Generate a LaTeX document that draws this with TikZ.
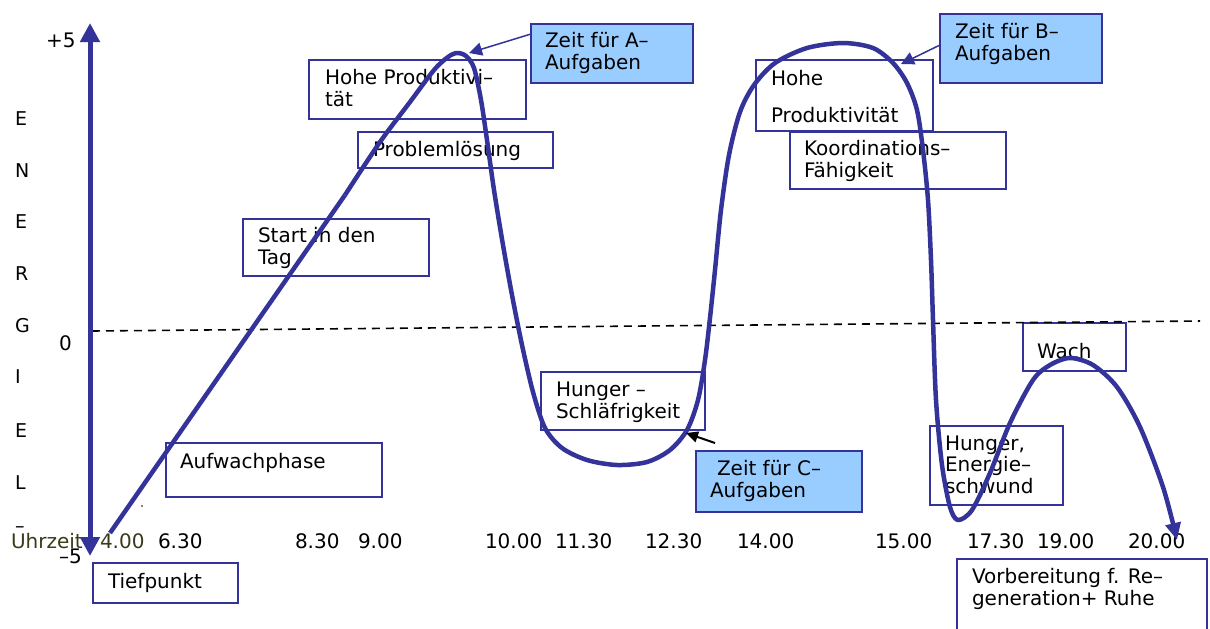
\documentclass[tikz,border=0pt]{standalone}
\usepackage{fontspec}
\setmainfont{DejaVu Sans}
\usetikzlibrary{arrows.meta}
\definecolor{pblue}{HTML}{333399}
\definecolor{lblue}{HTML}{99CCFF}
\definecolor{olive}{HTML}{3A3A1A}
\tikzset{
  box/.style={draw=pblue, line width=1.6pt, anchor=north west, inner sep=0pt, outer sep=0pt},
  fbox/.style={box, fill=lblue},
  txt/.style={anchor=base west, inner sep=0pt, outer sep=0pt, align=left, font=\fontsize{20}{21.5}\selectfont},
  axlbl/.style={anchor=base west, inner sep=0pt, outer sep=0pt, font=\fontsize{19}{20}\selectfont},
  curve/.style={draw=pblue, line width=4.5pt, line join=round},
  pointer/.style={draw=pblue, line width=1.5pt, -{Triangle[length=13pt,width=13pt]}},
}
\begin{document}
\begin{tikzpicture}[x=1pt,y=-1pt]
\useasboundingbox (0,0) rectangle (1210,629);
% boxes
\node[box, minimum width=145pt, minimum height=40pt] (bTief) at (93,563) {};
\node[box, minimum width=216pt, minimum height=54pt] (bAuf) at (166,443) {};
\node[box, minimum width=186pt, minimum height=57pt] (bStart) at (243,219) {};
\node[box, minimum width=217pt, minimum height=59pt] (bHohe1) at (309,60) {};
\node[box, minimum width=195pt, minimum height=36pt] (bProb) at (358,132) {};
\node[fbox, minimum width=162pt, minimum height=59pt] (bZA) at (531,24) {};
\node[box, minimum width=164pt, minimum height=58pt] (bHung) at (541,372) {};
\node[fbox, minimum width=166pt, minimum height=61pt] (bZC) at (696,451) {};
\node[box, minimum width=177pt, minimum height=71pt] (bHohe2) at (756,60) {};
\node[box, minimum width=216pt, minimum height=57pt] (bKoord) at (790,132) {};
\node[fbox, minimum width=162pt, minimum height=69pt] (bZB) at (940,14) {};
\node[box, minimum width=103pt, minimum height=48pt] (bWach) at (1023,323) {};
\node[box, minimum width=133pt, minimum height=79pt] (bHE) at (930,426) {};
\node[box, minimum width=250pt, minimum height=80pt] (bVor) at (957,559) {};
% box texts (anchor = baseline of last line)
\node[txt] (tTief) at (108,588) {Tiefpunkt};
\node[txt] (tAuf) at (180,468) {Aufwachphase};
\node[txt] (tStart) at (258,264) {Start in den\\Tag};
\node[txt] (tHohe1) at (325,106) {Hohe Produktivi–\\tät};
\node[txt] (tProb) at (373,156) {Problemlösung};
\node[txt] (tZA) at (545,69) {Zeit für A–\\Aufgaben};
\node[txt] (tHung) at (556,418) {Hunger –\\Schläfrigkeit};
\node[txt] (tZC) at (710,497) {\hspace*{7pt}Zeit für C–\\Aufgaben};
\node[txt, font=\fontsize{20}{37}\selectfont] (tHohe2) at (771,122) {Hohe\\Produktivität};
\node[txt] (tKoord) at (804,177) {Koordinations–\\Fähigkeit};
\node[txt] (tZB) at (955,60) {Zeit für B–\\Aufgaben};
\node[txt] (tWach) at (1037,358) {Wach};
\node[txt] (tHE) at (945,493) {Hunger,\\Energie–\\schwund};
\node[txt] (tVor) at (972,605) {Vorbereitung f. Re–\\generation+ Ruhe};
% axis labels
\node[axlbl, font=\fontsize{20}{22}\selectfont] (lp5) at (46,47) {+5};
\node[axlbl, font=\fontsize{20}{22}\selectfont] (l0) at (59,350) {0};
\node[axlbl, font=\fontsize{20}{22}\selectfont] (lm5) at (59,563) {–5};
\node[axlbl] (e1) at (15,125) {E};
\node[axlbl] (e2) at (15,177) {N};
\node[axlbl] (e3) at (15,228) {E};
\node[axlbl] (e4) at (15,280) {R};
\node[axlbl] (e5) at (15,332) {G};
\node[axlbl] (e6) at (15,383) {I};
\node[axlbl] (e7) at (15,437) {E};
\node[axlbl] (e8) at (15,489) {L};
\node[axlbl] (e9) at (15,532) {–};
% time labels
\node[txt, text=olive] (uhr) at (11,548) {Uhrzeit};
\node[txt, text=olive] (t400) at (100,548) {4.00};
\node[txt] (t630) at (158,548) {6.30};
\node[txt] (t830) at (295,548) {8.30};
\node[txt] (t900) at (358,548) {9.00};
\node[txt] (t1000) at (485,548) {10.00};
\node[txt] (t1130) at (555,548) {11.30};
\node[txt] (t1230) at (645,548) {12.30};
\node[txt] (t1400) at (737,548) {14.00};
\node[txt] (t1500) at (875,548) {15.00};
\node[txt] (t1730) at (967,548) {17.30};
\node[txt] (t1900) at (1037,548) {19.00};
\node[txt] (t2000) at (1128,548) {20.00};
\fill (142,506) circle (0.8pt);
% zero line
\coordinate (z0) at (92,331);
\coordinate (z1) at (1200,321);
\draw[black, line width=1.6pt, dash pattern=on 8pt off 6pt] (z0) -- (z1);
% axis
\coordinate (ytop) at (90,23);
\coordinate (ybot) at (90,556);
\draw[pblue, line width=5pt, {Triangle[length=19pt,width=19pt]}-{Triangle[length=19pt,width=19pt]}] (ytop) -- (ybot);
% energy curve
\draw[curve] (110,533) -- (345,195);
\draw[curve, -{Triangle[length=17pt,width=15pt]}] plot[smooth, tension=0.5] coordinates {
 (345,195) (380,142) (410,102) (434,70) (448,57) (457,53) (466,56) (474,68) (481,100) (487,140) (494,190)
 (503,245) (512,295) (522,345) (533,392) (545,428) (562,448) (587,460) (617,465) (647,462) (670,450) (687,430) (698,400) (705,360)
 (710,318) (715,270) (721,210) (729,155) (740,112) (754,85) (775,63) (807,48) (843,43) (873,48) (893,63) (907,83) (917,110)
 (923,150) (928,200) (931,260) (933,320) (936,400) (942,465) (950,507) (958,520) (972,510) (990,473) (1010,423) (1033,380)
 (1050,365) (1070,358) (1093,365) (1117,387) (1140,427) (1163,487) (1177,540)};
% pointers
\coordinate (pA) at (469,53);
\coordinate (pB) at (901,64);
\coordinate (pC) at (686,433);
\draw[pointer] (bZA.north west |- 0,34) -- (pA);
\draw[pointer] (bZB.north west |- 0,45) -- (pB);
\draw[black, line width=2pt, -{Triangle[length=12pt,width=11pt]}] (bZC.north west |- 0,443) ++(19,0) -- (pC);
\end{tikzpicture}
\end{document}
